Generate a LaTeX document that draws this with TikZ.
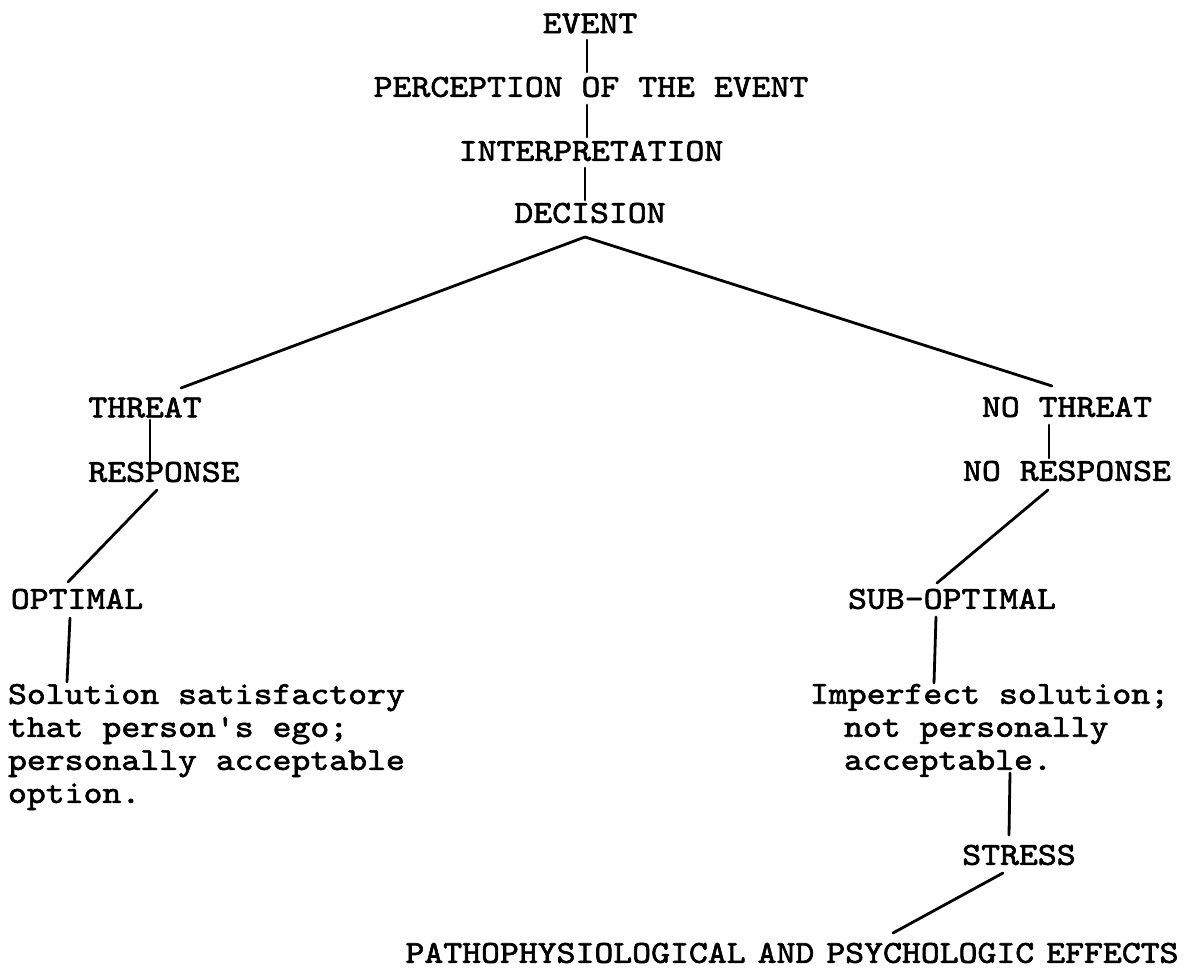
\documentclass[tikz,border=0pt]{standalone}
\usepackage{fontspec}
\newfontfamily\tw{lmmono10-regular.otf}[FakeStretch=1.125,FakeBold=2]
\usetikzlibrary{calc}
\tikzset{
  lbl/.style={inner sep=0pt, outer sep=0pt, font=\tw\fontsize{32}{33}\selectfont},
  blk/.style={lbl, align=left, anchor=north west},
  con/.style={line width=2.8pt, line cap=round}
}
\begin{document}
\begin{tikzpicture}[x=1pt,y=-1pt]
\useasboundingbox (0,0) rectangle (1189,973);
% nodes
\node[lbl] (ev)   at (590,23.5) {EVENT};
\node[lbl] (per)  at (591,87)   {PERCEPTION OF THE EVENT};
\node[lbl] (int)  at (591,151)  {INTERPRETATION};
\node[lbl] (dec)  at (590,213)  {DECISION};
\node[lbl] (thr)  at (145,407.5){THREAT};
\node[lbl] (res)  at (164,472)  {RESPONSE};
\node[lbl] (opt)  at (77,599)   {OPTIMAL};
\node[blk] (sol)  at (8,684)    {Solution satisfactory\\that person's ego;\\personally acceptable\\option.};
\node[lbl] (nth)  at (1067,407) {NO THREAT};
\node[lbl] (nres) at (1067,471) {NO RESPONSE};
\node[lbl] (sub)  at (952,599)  {SUB-OPTIMAL};
\node[blk] (imp)  at (810,684)  {Imperfect solution;\\\hspace*{34pt}not personally\\\hspace*{34pt}acceptable.};
\node[lbl] (str)  at (1019,855) {STRESS};
\node[lbl] (eff)  at (792,953)  {PATHOPHYSIOLOGICAL\hspace{12pt}AND\hspace{12pt}PSYCHOLOGIC\hspace{12pt}EFFECTS};
% connectors
\draw[con] ($(ev)+(-3,16.5)$) -- ($(per)+(-4,-15)$);
\draw[con] ($(per)+(-4,18)$) -- ($(int)+(-4,-14)$);
\draw[con] ($(int)+(-6,17)$) -- ($(dec)+(-5,-13)$);
\draw[con] ($(thr)+(36,-19.5)$) -- ($(dec)+(-5,24)$) -- ($(nth)+(-15,-21)$);
\draw[con] ($(thr)+(5,12.5)$) -- ($(res)+(-14,-7)$);
\draw[con] ($(res)+(-7,18)$) -- ($(opt)+(-9,-17)$);
\draw[con] ($(opt)+(-7,19)$) -- ($(sol.north west)+(59,-2)$);
\draw[con] ($(nth)+(-18,18)$) -- ($(nres)+(-18,-13)$);
\draw[con] ($(nres)+(-19,19)$) -- ($(sub)+(-15,-16)$);
\draw[con] ($(sub)+(-16,18)$) -- ($(imp.north west)+(124,-1)$);
\draw[con] ($(imp.north west)+(200,89)$) -- ($(str)+(-10,-20)$);
\draw[con] ($(str)+(-16,18)$) -- ($(eff)+(101,-20)$);
\end{tikzpicture}
\end{document}
